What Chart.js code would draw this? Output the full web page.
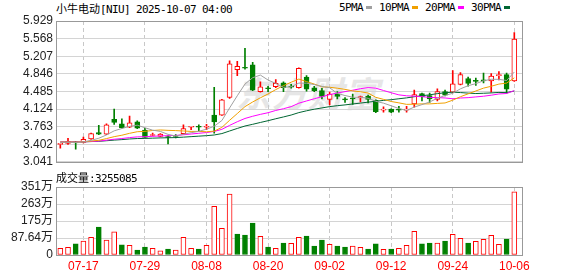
<!DOCTYPE html>
<html><head><meta charset="utf-8">
<script src="https://cdn.jsdelivr.net/npm/chart.js@4.4.1/dist/chart.umd.min.js"></script>
<style>
html,body{margin:0;padding:0;background:#fff;}
#wrap{position:relative;width:578px;height:276px;overflow:hidden;background:#fff;}
canvas{position:absolute;left:0;}
.t{position:absolute;white-space:nowrap;color:#000;line-height:14px;}
.cjk{font-family:"Noto Sans CJK SC";font-size:11px;}
.mono{font-family:"DejaVu Sans Mono";font-size:11px;letter-spacing:-0.62px;}
.sq{display:inline-block;width:6px;height:3px;margin:0 7px 0 3px;vertical-align:middle;position:relative;top:-1px;}
#wm{position:absolute;left:236px;top:66px;font-family:"Noto Sans CJK SC";font-weight:bold;font-style:italic;font-size:35px;color:#e6e6e6;letter-spacing:1px;}
</style></head>
<body>
<div id="wrap">
  <div id="wm">东方财富</div>
  <div class="t" id="title" style="left:56px;top:1px;"><span class="cjk">小牛电动</span><span class="mono">[NIU] 2025-10-07 04:00</span></div>
  <div class="t mono" id="legend" style="left:339px;top:1px;"></div>
  <canvas id="main" width="578" height="172" style="top:0;"></canvas>
  <div class="t" id="volLabel" style="left:56px;top:170px;"><span class="cjk">成交量</span><span class="mono">:3255085</span></div>
  <canvas id="vol" width="578" height="104" style="top:172px;"></canvas>
</div>
<script>
// ---- data ----
const dates = ['07-14','07-15','07-16','07-17','07-18','07-21','07-22','07-23','07-24','07-25','07-28','07-29','07-30','07-31','08-01','08-04','08-05','08-06','08-07','08-08','08-11','08-12','08-13','08-14','08-15','08-18','08-19','08-20','08-21','08-22','08-25','08-26','08-27','08-28','08-29','09-02','09-03','09-04','09-05','09-08','09-09','09-10','09-11','09-12','09-15','09-16','09-17','09-18','09-19','09-22','09-23','09-24','09-25','09-26','09-29','09-30','10-01','10-02','10-03','10-06'];
const opens  = [3.40,3.42,3.45,3.44,3.51,3.64,3.61,3.91,3.82,3.75, 3.86,3.69,3.58,3.56,3.55,3.57,3.62,3.75,3.76,3.75, 4.00,4.00,4.36,4.93,4.97,5.03,4.48,4.55,4.58,4.66, 4.58,4.56,4.78,4.56,4.50,4.32,4.43,4.32,4.34,4.35, 4.39,4.30,4.10,4.12,4.11,4.10,4.23,4.44,4.40,4.32, 4.48,4.47,4.63,4.75,4.70,4.71,4.70,4.81,4.83,4.70];
const highs  = [3.41,3.52,3.46,3.55,3.63,3.79,3.82,4.12,3.92,3.98, 3.88,3.73,3.63,3.62,3.58,3.60,3.80,3.76,3.80,3.81, 4.57,4.32,5.11,5.10,5.37,5.08,4.68,4.59,4.73,4.68, 4.63,4.97,4.81,4.59,4.55,4.47,4.48,4.36,4.43,4.39, 4.41,4.31,4.17,4.13,4.18,4.18,4.51,4.45,4.45,4.54, 4.51,4.91,4.87,4.78,4.76,4.86,4.85,4.89,4.86,5.69];
const lows   = [3.32,3.40,3.30,3.43,3.50,3.60,3.60,3.81,3.73,3.74, 3.72,3.54,3.57,3.55,3.41,3.53,3.61,3.70,3.68,3.70, 3.63,3.99,4.34,4.81,4.94,4.50,4.47,4.48,4.56,4.48, 4.55,4.55,4.49,4.48,4.33,4.21,4.33,4.26,4.22,4.27, 4.25,4.05,4.06,4.05,4.06,4.06,4.16,4.29,4.26,4.29, 4.39,4.46,4.62,4.59,4.61,4.66,4.47,4.72,4.45,4.69];
const closes = [3.40,3.46,3.43,3.50,3.62,3.61,3.80,3.85,3.74,3.84, 3.73,3.54,3.60,3.61,3.54,3.56,3.72,3.76,3.75,3.76, 3.86,4.31,5.05,5.00,4.96,4.51,4.58,4.54,4.65,4.56, 4.57,4.96,4.53,4.50,4.38,4.43,4.38,4.31,4.33,4.38, 4.32,4.07,4.12,4.06,4.10,4.12,4.42,4.37,4.33,4.48, 4.41,4.64,4.83,4.65,4.69,4.70,4.80,4.82,4.53,5.56];
const closeBefore = 3.38;
// volume in 万 (10k shares)
const volumes = [34,40,57,72,91,144,77,119,52,50, 26,41,34,21,31,26,91,34,31,50, 251,137,314,108,103,165,96,41,34,62, 60,91,98,46,77,55,46,41,46,40, 31,57,29,31,34,50,122,57,62,62, 72,107,86,62,70,81,101,55,82,325.5];
const ma5  = [3.440,3.442,3.438,3.448,3.482,3.524,3.592,3.676,3.724,3.768, 3.792,3.740,3.690,3.664,3.604,3.570,3.606,3.638,3.666,3.710, 3.770,3.888,4.146,4.396,4.636,4.766,4.820,4.718,4.648,4.568, 4.580,4.656,4.654,4.624,4.588,4.560,4.444,4.400,4.366,4.366, 4.344,4.282,4.244,4.190,4.134,4.094,4.164,4.214,4.268,4.344, 4.402,4.446,4.538,4.602,4.644,4.702,4.734,4.732,4.708,4.882];
const ma10 = [3.445,3.446,3.444,3.449,3.466,3.482,3.517,3.557,3.586,3.625, 3.658,3.666,3.683,3.694,3.686,3.681,3.673,3.664,3.665,3.657, 3.670,3.747,3.892,4.031,4.173,4.268,4.354,4.432,4.522,4.602, 4.673,4.738,4.686,4.636,4.578,4.570,4.550,4.527,4.495,4.477, 4.452,4.363,4.322,4.278,4.250,4.219,4.223,4.229,4.229,4.239, 4.248,4.305,4.376,4.435,4.494,4.552,4.590,4.635,4.655,4.763];
const ma20 = [3.448,3.448,3.447,3.450,3.458,3.466,3.484,3.504,3.518,3.538, 3.552,3.556,3.564,3.572,3.576,3.582,3.595,3.611,3.626,3.641, 3.664,3.707,3.788,3.863,3.930,3.975,4.014,4.048,4.094,4.130, 4.172,4.243,4.289,4.334,4.376,4.419,4.452,4.480,4.509,4.540, 4.563,4.551,4.504,4.457,4.414,4.395,4.387,4.378,4.362,4.358, 4.350,4.334,4.349,4.357,4.372,4.386,4.407,4.432,4.442,4.501];
const ma30 = [3.448,3.448,3.448,3.450,3.456,3.461,3.473,3.486,3.496,3.509, 3.518,3.521,3.526,3.531,3.534,3.538,3.547,3.557,3.567,3.577, 3.591,3.620,3.673,3.725,3.775,3.810,3.848,3.884,3.924,3.961, 4.000,4.050,4.087,4.120,4.146,4.173,4.192,4.208,4.227,4.245, 4.265,4.283,4.300,4.315,4.334,4.352,4.376,4.396,4.415,4.439, 4.458,4.469,4.461,4.450,4.441,4.447,4.454,4.464,4.460,4.493];
const maLabels = ['5PMA','10PMA','20PMA','30PMA'];
const axisDates = ['07-17','07-29','08-08','08-20','09-02','09-12','09-24','10-06'];
const yTicks = [3.041,3.402,3.763,4.124,4.485,4.846,5.207,5.568,5.929];
const yTickLabels = ['3.041','3.402','3.763','4.124','4.485','4.846','5.207','5.568','5.929'];
const volTicks = [0,87.64,175.28,262.92,350.56];
const volTickLabels = ['0','87.64万','175万','263万','351万'];

// ---- styles ----
const RED = '#ff0000', GREEN = '#008000';
const maColors = ['#a0a0a0','#f0a000','#ff00ff','#006633'];
const maSeries = [ma5, ma10, ma20, ma30];

// legend
const lg = document.getElementById('legend');
maLabels.forEach((l, k) => {
  const s = document.createElement('span'); s.textContent = l; lg.appendChild(s);
  const q = document.createElement('span'); q.className = 'sq'; q.style.background = maColors[k]; lg.appendChild(q);
});

const idx = dates.map((_, i) => i);
const up = idx.map(i => closes[i] >= opens[i]);
const volUp = idx.map(i => closes[i] >= (i ? closes[i-1] : closeBefore));
const X_MIN = -0.56, X_MAX = 60.0;

const framePlugin = {
  id: 'frame',
  beforeDatasetsDraw(chart) {
    const {ctx, chartArea: a} = chart;
    ctx.save();
    ctx.strokeStyle = '#999';
    ctx.lineWidth = 1;
    ctx.strokeRect(Math.round(a.left) + 0.5, Math.round(a.top) + 0.5, Math.round(a.right - a.left), Math.round(a.bottom - a.top));
    ctx.restore();
  }
};

function xScale(showLabels, h) {
  return {
    type: 'linear', min: X_MIN, max: X_MAX, offset: false,
    afterBuildTicks: s => { s.ticks = axisDates.map(d => ({value: dates.indexOf(d)})); },
    ticks: {display: showLabels, autoSkip: false, maxRotation: 0, minRotation: 0, padding: 4,
      color: RED, font: {family: 'Liberation Sans', size: 12}, callback: (v, i) => axisDates[i]},
    grid: {offset: false, color: '#c8c8c8', lineWidth: 1, drawTicks: false},
    border: {display: false, dash: [4, 3]},
    afterFit: s => { s.height = h; }
  };
}

const common = {
  responsive: false, animation: false, devicePixelRatio: 1,
  plugins: {legend: {display: false}, tooltip: {enabled: false}}
};

new Chart(document.getElementById('main'), {
  type: 'bar',
  data: {
    datasets: [
      ...maSeries.map((s, k) => ({
        type: 'line', label: maLabels[k], data: idx.map(i => ({x: i, y: s[i]})),
        borderColor: maColors[k], borderWidth: 1, pointRadius: 0, tension: 0, fill: false, order: k
      })),
      {type: 'bar', label: 'body', data: idx.map(i => ({x: i, y: [opens[i], closes[i]]})),
        backgroundColor: idx.map(i => up[i] ? '#ffffff' : GREEN),
        borderColor: idx.map(i => up[i] ? RED : GREEN),
        borderWidth: 1, borderSkipped: false, barThickness: 5, minBarLength: 1, grouped: false, order: 10},
      {type: 'bar', label: 'wick', data: idx.map(i => ({x: i, y: [lows[i], highs[i]]})),
        backgroundColor: idx.map(i => up[i] ? RED : GREEN),
        borderWidth: 0, barThickness: 1, grouped: false, order: 11}
    ]
  },
  options: {
    ...common,
    layout: {padding: {left: 0, right: 56, top: 21, bottom: 0}},
    scales: {
      x: xScale(false, 7),
      y: {type: 'linear', min: yTicks[0], max: yTicks[yTicks.length - 1], beginAtZero: false,
        afterBuildTicks: s => { s.ticks = yTicks.map(v => ({value: v})); },
        ticks: {autoSkip: false, padding: 3, color: '#222', font: {family: 'Liberation Sans', size: 12},
          callback: (v, i) => yTickLabels[i]},
        grid: {color: '#d4d4d4', drawTicks: false},
        border: {display: false},
        afterFit: s => { s.width = 56; }}
    }
  },
  plugins: [framePlugin]
});

new Chart(document.getElementById('vol'), {
  type: 'bar',
  data: {
    datasets: [{
      label: '成交量', data: idx.map(i => ({x: i, y: volumes[i]})),
      backgroundColor: volUp.map(u => u ? '#ffffff' : GREEN),
      borderColor: volUp.map(u => u ? RED : GREEN),
      borderWidth: 1, borderSkipped: false, barThickness: 5, grouped: false
    }]
  },
  options: {
    ...common,
    layout: {padding: {left: 0, right: 56, top: 15, bottom: 0}},
    scales: {
      x: xScale(true, 21),
      y: {type: 'linear', min: volTicks[0], max: volTicks[volTicks.length - 1], beginAtZero: true,
        afterBuildTicks: s => { s.ticks = volTicks.map(v => ({value: v})); },
        ticks: {autoSkip: false, padding: 3, color: '#222', font: {family: 'Liberation Sans, Noto Sans CJK SC', size: 12},
          callback: (v, i) => volTickLabels[i]},
        grid: {color: '#d4d4d4', drawTicks: false},
        border: {display: false},
        afterFit: s => { s.width = 56; }}
    }
  },
  plugins: [framePlugin]
});
</script>
</body></html>
